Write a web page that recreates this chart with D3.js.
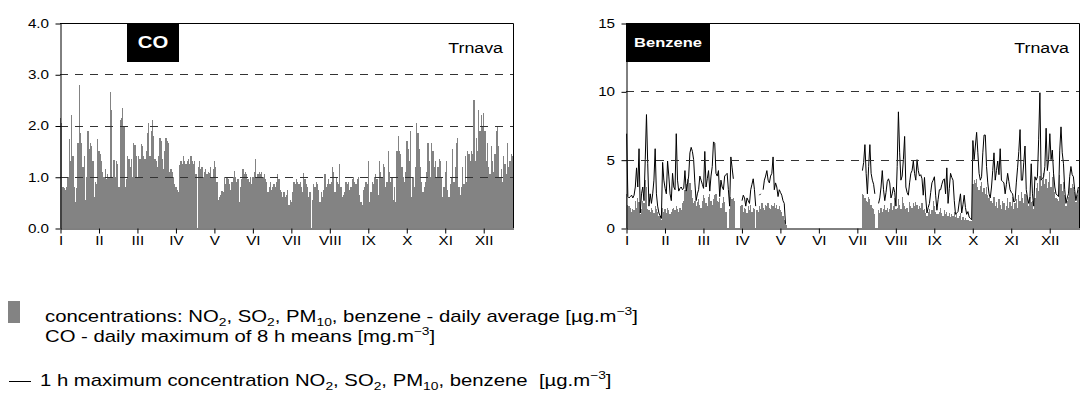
<!DOCTYPE html>
<html><head><meta charset="utf-8">
<script src="https://cdn.jsdelivr.net/npm/d3@7"></script>
<style>
body{margin:0;background:#fff}
text{font-family:"Liberation Sans",Arial,Helvetica,sans-serif;fill:#000}
</style>
</head><body>
<svg id="chart" width="1081" height="405"></svg>
<script>
const n = null;
const monthLabels = ["I","II","III","IV","V","VI","VII","VIII","IX","X","XI","XII"];
const monthStartDays = [0,31,62,93,124,155,186,217,248,279,310,341];
const coTicks = [0,1,2,3,4];
const coDashed = [1,2,3];
const benzeneTicks = [0,5,10,15];
const benzeneDashed = [5,10];

// CO - daily maximum of 8 h means [mg.m-3]
const coDaily = [
2.15,2.05,0.8,0.78,0.75,0.8,1.0,1.73,1.3,2.2,
1.4,0.8,0.5,0.78,1.65,2.8,1.85,1.65,1.2,1.4,
0.55,1.0,1.9,1.55,1.65,1.6,1.3,0.6,0.9,0.85,
1.74,1.5,1.45,1.3,1.1,1.0,1.15,0.95,1.05,1.0,
2.65,2.3,1.0,1.33,1.0,1.3,1.25,0.8,2.1,2.15,
2.35,2.0,0.8,0.95,1.4,1.35,1.2,1.35,1.0,1.65,
1.62,1.4,1.0,1.4,1.35,1.63,1.6,1.4,1.35,1.5,
1.85,2.05,1.4,1.9,2.1,1.8,1.35,1.3,1.2,1.4,
1.75,1.7,1.35,1.15,1.5,1.75,1.7,1.65,1.1,1.15,
1.1,1.0,0.85,0.8,0.75,0.7,1.22,1.3,1.25,1.4,
1.3,1.25,1.3,1.35,1.25,1.4,1.3,1.25,1.3,1.05,
0,1.2,1.3,1.15,1.2,1.0,1.1,1.15,1.05,1.1,
1.08,1.2,1.0,1.15,1.3,1.2,0.9,0.55,0.6,0.65,
0.72,0.7,1.0,0.85,1.0,0.95,0.85,0.75,0.9,1.0,
1.12,1.0,0.9,0.95,0.5,0.8,0.95,1.15,1.05,1.1,
1.05,0.95,0.9,1.0,0.85,1.0,1.1,1.35,1.0,1.05,
1.1,1.05,1.1,1.0,1.05,0.95,0.9,0.7,0.8,0.9,
0.75,0.8,0.85,0.8,0.9,1.05,0.95,0.75,0.7,0.6,
0.7,0.6,0.65,0.75,0.45,0.55,0.5,0.7,0.9,0.85,
0.95,0.9,0.85,0.9,0.8,0.7,1.08,0.95,0.85,0.8,
0.6,0.7,0,0.55,0.85,0.8,0.9,0.85,0.75,0.5,
0.7,0.6,0.75,1.05,0.8,0.85,0.95,0.85,0.9,1.2,
1.1,0.7,1.0,0.9,0.85,1.25,0.8,0.6,0.65,0.7,
0.9,0.85,0.9,0.75,0.8,0.95,1.0,0.9,0.85,0.95,
1.0,0.65,0.5,0.45,0.75,0.8,0.9,0.85,1.3,0.5,
0.7,0.9,0.85,1.0,1.05,0.95,0.65,1.3,1.1,1.0,
1.25,1.2,0.8,0.9,1.5,1.1,0.9,1.0,0.55,0.8,
0.5,1.5,1.8,1.5,1.45,1.2,1.0,0.9,1.1,1.7,
1.55,1.3,1.9,0.6,1.0,0.8,1.2,2.05,1.85,1.55,
1.2,0.9,0.7,0.8,0.9,1.1,1.65,1.3,1.0,1.65,
1.5,1.2,1.3,1.0,1.2,1.35,1.3,1.0,0.6,0.8,
1.1,1.3,0.75,0.6,0.85,1.0,1.55,0.9,1.2,1.65,
1.75,0.8,0.65,0.8,1.2,0.85,1.4,0.9,1.5,1.45,
1.3,1.5,1.45,2.5,1.3,1.75,1.5,2.3,1.9,2.2,
2.0,2.25,1.9,1.3,1.65,1.2,1.05,1.6,1.3,1.1,
1.45,1.9,2.0,1.6,1.0,1.15,0.9,1.4,1.25,1.05,
1.65,1.2,1.3,1.45,1.4];

// Benzene - daily average [ug.m-3]
const benzeneDaily = [
2.5,1.7,1.6,1.5,1.2,1.4,1.3,2.0,1.5,2.2,
1.9,1.0,1.4,2.0,1.8,3.5,3.0,1.4,1.3,1.2,
1.5,1.3,1.1,1.6,1.4,1.2,0.9,0.8,0.6,1.5,
1.2,1.4,1.1,1.5,1.3,1.0,1.2,1.4,1.5,1.3,
1.6,1.4,1.2,1.5,1.3,1.8,2.0,2.8,3.2,3.6,
3.5,3.3,2.8,2.2,1.8,2.0,1.6,1.9,2.1,1.7,
1.5,2.0,2.4,2.2,1.8,1.6,2.3,2.5,2.0,1.7,
2.1,2.4,2.5,2.0,1.9,2.2,1.5,1.8,2.3,1.9,
1.2,n,n,1.4,2.3,2.1,2.2,2.0,n,n,
n,n,1.6,1.7,1.2,1.5,1.4,1.1,1.6,1.3,
1.7,1.2,1.5,1.4,n,1.3,1.2,1.6,1.4,1.8,
1.5,1.3,1.7,1.6,1.8,1.5,1.4,1.7,1.6,1.8,
1.5,1.7,1.4,1.6,1.3,1.2,0.9,0.6,0.3,0.2,
n,n,n,n,n,n,n,n,n,n,
n,n,n,n,n,n,n,n,n,n,
n,n,n,n,n,n,n,n,n,n,
n,n,n,n,n,n,n,n,n,n,
n,n,n,n,n,n,n,n,n,n,
n,n,n,n,n,n,n,n,n,n,
2.5,2.4,2.2,2.0,1.9,2.3,2.1,1.7,1.5,1.4,
1.0,n,n,1.3,1.1,1.5,1.2,1.4,1.7,1.3,
1.5,1.2,1.4,1.8,1.3,1.6,2.2,1.4,1.5,2.1,
1.7,1.4,2.3,1.8,1.6,1.4,1.5,1.2,1.9,1.6,
1.5,1.8,1.6,1.9,1.7,1.4,1.6,1.5,1.8,1.3,
1.4,1.1,0.9,1.2,1.4,1.0,1.3,2.0,1.6,1.2,
1.0,1.0,1.2,1.5,1.1,0.9,1.3,1.0,1.2,0.9,
1.1,0.8,1.0,0.9,1.2,0.8,1.0,0.7,0.9,1.1,
0.6,0.8,0.6,0.7,0.6,0.6,0.5,0.5,0.5,3.2,
3.5,3.3,3.6,3.0,2.8,3.1,3.4,2.6,2.9,2.5,
3.0,2.4,2.2,2.0,2.0,1.8,2.3,1.6,1.9,1.5,
2.1,1.7,1.4,2.0,1.8,1.3,1.6,2.2,1.5,1.9,
1.6,2.3,1.4,1.8,2.1,1.5,2.4,2.0,2.6,2.2,
1.8,2.5,2.4,2.1,1.6,2.3,1.9,2.0,1.4,2.2,
2.9,3.3,2.7,3.8,3.1,3.5,4.0,3.2,3.6,2.9,
3.4,4.1,3.0,3.7,4.0,2.6,2.2,2.1,2.0,3.9,
3.2,2.7,3.4,2.4,1.6,2.0,2.3,3.5,2.9,3.2,
3.0,2.6,1.9,2.4,2.8];

// Benzene - 1 h maximum [ug.m-3]
const benzeneMax1h = [
6.9,2.3,2.2,2.3,2.4,2.2,2.4,3.0,4.4,3.0,
5.8,1.1,2.5,3.0,2.0,5.0,8.3,4.7,1.6,2.5,
1.8,2.5,3.5,5.8,2.5,1.6,1.1,0.9,0.7,4.8,
3.5,2.9,2.5,4.9,3.8,2.5,2.0,4.0,3.0,2.8,
6.9,3.5,2.7,2.9,3.0,2.8,2.9,4.2,2.7,3.2,
3.8,5.5,5.9,5.6,5.0,3.3,2.0,2.5,2.8,3.8,
3.5,3.2,2.9,5.6,3.0,3.6,4.2,2.7,3.8,4.5,
6.3,6.2,4.0,3.8,4.2,2.3,3.5,3.0,2.8,3.8,
3.9,4.0,2.8,1.6,5.2,4.4,3.6,n,n,n,
n,n,n,2.0,2.4,2.2,1.6,2.2,2.0,1.8,
2.8,3.2,3.6,2.8,1.6,n,n,2.4,2.5,n,
2.8,3.5,3.8,4.2,3.5,3.3,3.8,4.0,5.2,2.8,
3.3,3.0,2.3,2.8,2.6,2.4,2.0,1.8,0.3,n,
n,n,n,n,n,n,n,n,n,n,
n,n,n,n,n,n,n,n,n,n,
n,n,n,n,n,n,n,n,n,n,
n,n,n,n,n,n,n,n,n,n,
n,n,n,n,n,n,n,n,n,n,
n,n,n,n,n,n,n,n,n,n,
4.2,4.8,6.1,4.0,2.5,4.5,6.1,4.0,3.5,3.2,
2.5,n,n,1.8,2.2,3.0,4.2,2.8,2.0,2.6,
3.4,3.6,3.3,2.2,2.5,3.0,2.6,1.6,4.5,8.5,
5.5,3.5,3.8,5.0,6.7,3.0,2.6,2.4,3.3,4.0,
4.2,4.9,4.0,3.5,5.0,4.2,3.8,3.9,3.6,2.4,
3.7,2.2,1.1,1.5,1.8,2.6,3.3,3.5,3.75,2.4,
1.3,2.1,2.8,2.8,3.2,3.5,3.6,2.5,4.4,1.8,
2.9,4.0,3.7,3.5,2.0,1.0,1.1,1.2,1.9,2.5,
1.1,1.7,2.4,1.5,1.0,1.2,0.8,0.7,0.6,6.4,
5.0,6.0,7.0,5.5,4.0,3.5,3.75,5.5,6.8,6.8,
4.5,3.3,2.5,2.2,3.0,4.2,5.5,3.5,4.2,4.9,
3.9,5.8,3.5,3.4,3.3,2.5,3.2,4.0,3.4,2.8,
2.6,2.5,1.9,2.0,3.3,4.4,5.6,7.2,3.5,3.5,
4.8,6.0,2.8,2.2,1.8,2.3,4.7,2.5,1.6,3.75,
3.5,3.75,6.5,9.9,3.5,3.6,3.75,4.5,7.3,4.2,
5.0,6.9,5.0,5.7,4.0,3.0,2.5,2.4,2.3,5.7,
7.4,5.5,4.7,2.8,1.8,2.2,2.5,3.75,4.5,3.9,
3.75,2.8,2.0,2.5,3.0];

const svg = d3.select("#chart");
const BAR = "#838383";
const SX = 1.27; // horizontal stretch of the lettering in the reference

function stretchedText(parent, x, y, size) {
  return parent.append("g").attr("transform", `translate(${x},${y}) scale(${SX},1)`)
    .append("text").attr("font-size", size);
}

function panel(o) {
  const days = d3.range(o.bars.length);
  const x = d3.scaleBand().domain(days).range([o.x0, o.x0 + o.w]).padding(0);
  const xd = d3.scaleLinear().domain([0, days.length]).range([o.x0, o.x0 + o.w]);
  const y = d3.scaleLinear().domain([0, o.yMax]).range([o.yBot, o.yTop]);
  const bw = x.bandwidth();
  const g = svg.append("g");

  g.append("g").attr("shape-rendering", "crispEdges").selectAll("rect")
    .data(days.filter(d => o.bars[d] != null && o.bars[d] > 0))
    .join("rect")
    .attr("x", d => Math.round(x(d)))
    .attr("width", d => Math.max(1, Math.round(x(d) + bw) - Math.round(x(d))))
    .attr("y", d => Math.round(y(o.bars[d]))).attr("height", d => Math.round(y(0)) - Math.round(y(o.bars[d])))
    .attr("fill", BAR);

  if (o.line) {
    const line = d3.line()
      .defined(d => o.line[d] != null)
      .x(d => x(d) + bw / 2).y(d => y(o.line[d]));
    g.append("path").attr("d", line(days))
      .attr("fill", "none").attr("stroke", "#000").attr("stroke-width", 1);
  }

  g.append("g").selectAll("line").data(o.dashed).join("line")
    .attr("x1", o.x0).attr("x2", o.x0 + o.w)
    .attr("y1", d => Math.round(y(d)) + 0.5).attr("y2", d => Math.round(y(d)) + 0.5)
    .attr("stroke", "#333").attr("stroke-dasharray", "8,7");

  g.append("path")
    .attr("d", `M${o.x0},${o.yTop + 0.5}H${o.x0 + o.w + 0.5}V${o.yBot}`)
    .attr("fill", "none").attr("stroke", "#000");

  const ya = g.append("g").attr("transform", `translate(${o.x0 + 0.5},0.5)`)
    .call(d3.axisLeft(y).tickValues(o.ticks).tickFormat(o.fmt).tickSize(5).tickSizeOuter(0).tickPadding(4));
  const xa = g.append("g").attr("transform", `translate(0.5,${o.yBot + 0.5})`)
    .call(d3.axisBottom(xd).tickValues(monthStartDays).tickFormat((d, i) => monthLabels[i]).tickSize(5).tickSizeOuter(0).tickPadding(3));
  [ya, xa].forEach(a => {
    a.selectAll("path,line").attr("stroke", "#000");
    a.selectAll("text").attr("font-size", 12).attr("font-family", '"Liberation Sans",Arial,sans-serif')
      .attr("fill", "#000").attr("transform", `scale(${SX},1)`);
  });

  g.append("rect").attr("x", o.boxX).attr("y", o.yTop).attr("width", o.boxW).attr("height", 39).attr("fill", "#000");
  stretchedText(g, o.boxX + o.boxW / 2, o.yTop + 19 + o.boxFont * 0.36, o.boxFont)
    .attr("text-anchor", "middle").attr("font-weight", "bold").style("fill", "#fff").text(o.title);
  stretchedText(g, o.x0 + o.w - 10, o.yTop + 30, 14).attr("text-anchor", "end").text("Trnava");
}

panel({x0: 60, w: 453, yTop: 23, yBot: 228, yMax: 4, ticks: coTicks, dashed: coDashed,
  fmt: d3.format(".1f"), bars: coDaily, line: null, title: "CO", boxX: 127, boxW: 52, boxFont: 16});
panel({x0: 626, w: 453, yTop: 23, yBot: 228, yMax: 15, ticks: benzeneTicks, dashed: benzeneDashed,
  fmt: d3.format("d"), bars: benzeneDaily, line: benzeneMax1h, title: "Benzene", boxX: 626, boxW: 84, boxFont: 13});

function rich(x, y, parts, size) {
  const t = stretchedText(svg, x, y, size).style("white-space", "pre");
  let off = 0;
  parts.forEach(([s, m]) => {
    const target = m === "sub" ? 4 : m === "sup" ? -7 : 0;
    const sp = t.append("tspan").attr("dy", target - off).text(s);
    if (m) sp.attr("font-size", size * 0.68);
    off = target;
  });
}
const legendSize = 16;
svg.append("rect").attr("x", 8).attr("y", 301).attr("width", 12).attr("height", 22).attr("fill", BAR);
rich(45, 322, [["concentrations: NO"],["2","sub"],[", SO"],["2","sub"],[", PM"],["10","sub"],[", benzene - daily average [µg.m"],["\u22123","sup"],["]"]], legendSize);
rich(45, 342, [["CO - daily maximum of 8 h means [mg.m"],["\u22123","sup"],["]"]], legendSize);
svg.append("line").attr("x1", 9).attr("x2", 31).attr("y1", 381.5).attr("y2", 381.5).attr("stroke", "#000");
rich(40, 386, [["1 h maximum concentration NO"],["2","sub"],[", SO"],["2","sub"],[", PM"],["10","sub"],[", benzene  [µg.m"],["\u22123","sup"],["]"]], legendSize);
</script>
</body></html>
